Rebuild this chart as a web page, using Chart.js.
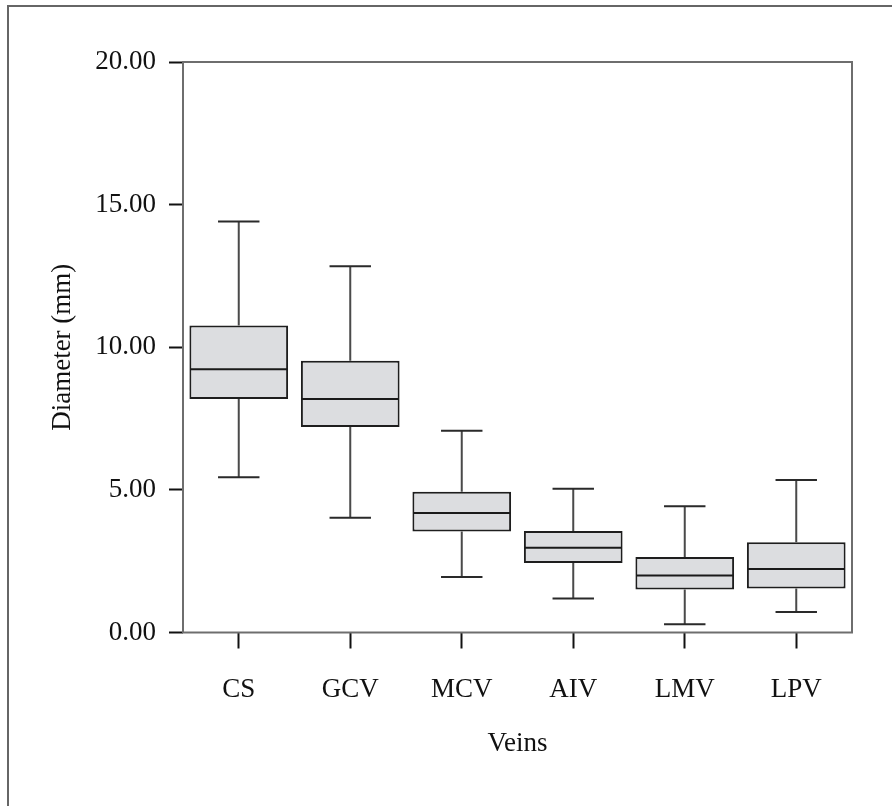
<!DOCTYPE html>
<html lang="en">
<head>
    <meta charset="UTF-8">
    <title>Vein Diameter Box Plot</title>
    <script src="https://cdn.jsdelivr.net/npm/chart.js"></script>
    <style>
        body {
            margin: 0;
            background: #fff;
        }
        #wrap {
            position: relative;
            width: 892px;
            height: 806px;
        }
        #frame {
            position: absolute;
            left: 7px;
            top: 5px;
            right: 0;
            bottom: 0;
            border-top: 2px solid #666;
            border-left: 2px solid #666;
            pointer-events: none;
        }
        canvas {
            position: absolute;
            left: 0;
            top: 0;
        }
    </style>
</head>
<body>
    <div id="wrap">
        <canvas id="veins-chart" width="892" height="806"></canvas>
        <div id="frame"></div>
    </div>

    <script>
        // values
        const veins = ['CS', 'GCV', 'MCV', 'AIV', 'LMV', 'LPV'];
        const whiskerLow = [5.44, 4.02, 1.95, 1.19, 0.29, 0.72];
        const quartile1 = [8.19, 7.20, 3.54, 2.44, 1.51, 1.54];
        const medians = [9.23, 8.19, 4.19, 2.97, 2.00, 2.23];
        const quartile3 = [10.76, 9.53, 4.93, 3.56, 2.65, 3.16];
        const whiskerHigh = [14.41, 12.84, 7.07, 5.04, 4.43, 5.35];
        const yTicks = [0, 5, 10, 15, 20];

        const serif = "'Liberation Serif', 'Times New Roman', serif";

        // whiskers, caps and median lines, placed with the chart's own scales
        const boxParts = {
            id: 'boxParts',
            afterDatasetsDraw(chart) {
                const ctx = chart.ctx;
                const y = chart.scales.y;
                const meta = chart.getDatasetMeta(0);
                ctx.save();
                meta.data.forEach((bar, i) => {
                    const half = bar.width / 2;
                    const cap = bar.width * 0.21;
                    const yLow = y.getPixelForValue(whiskerLow[i]);
                    const yQ1 = y.getPixelForValue(quartile1[i]);
                    const yQ3 = y.getPixelForValue(quartile3[i]);
                    const yHigh = y.getPixelForValue(whiskerHigh[i]);
                    const yMed = y.getPixelForValue(medians[i]);

                    ctx.strokeStyle = '#4a4a4a';
                    ctx.lineWidth = 2;
                    ctx.beginPath();
                    ctx.moveTo(bar.x, yQ3);
                    ctx.lineTo(bar.x, yHigh);
                    ctx.moveTo(bar.x, yQ1);
                    ctx.lineTo(bar.x, yLow);
                    ctx.stroke();

                    ctx.strokeStyle = '#2a2a2a';
                    ctx.beginPath();
                    ctx.moveTo(bar.x - cap, yHigh);
                    ctx.lineTo(bar.x + cap, yHigh);
                    ctx.moveTo(bar.x - cap, yLow);
                    ctx.lineTo(bar.x + cap, yLow);
                    ctx.stroke();

                    ctx.strokeStyle = '#1a1a1a';
                    ctx.beginPath();
                    ctx.moveTo(bar.x - half + 1, yMed);
                    ctx.lineTo(bar.x + half - 1, yMed);
                    ctx.stroke();
                });
                ctx.restore();
            },
            afterDraw(chart) {
                const a = chart.chartArea;
                const ctx = chart.ctx;
                ctx.save();
                ctx.strokeStyle = '#6e6e6e';
                ctx.lineWidth = 2;
                ctx.strokeRect(a.left, a.top, a.right - a.left, a.bottom - a.top);
                ctx.restore();
            }
        };

        const ctx = document.getElementById('veins-chart').getContext('2d');
        new Chart(ctx, {
            type: 'bar',
            data: {
                labels: veins,
                datasets: [{
                    data: veins.map((v, i) => [quartile1[i], quartile3[i]]),
                    backgroundColor: '#dcdde0',
                    borderColor: '#1e1e1e',
                    borderWidth: 2,
                    borderSkipped: false,
                    barPercentage: 0.885,
                    categoryPercentage: 1.0
                }]
            },
            options: {
                responsive: false,
                animation: false,
                layout: {
                    padding: { top: 62, right: 40, bottom: 0, left: 0 }
                },
                plugins: {
                    legend: { display: false },
                    tooltip: { enabled: false }
                },
                scales: {
                    x: {
                        afterFit: scale => { scale.height = 173.5; },
                        grid: {
                            offset: false,
                            drawOnChartArea: false,
                            tickLength: 16,
                            tickColor: '#111',
                            tickWidth: 2
                        },
                        border: { display: false },
                        ticks: {
                            color: '#111',
                            padding: 25,
                            font: { family: serif, size: 27 }
                        },
                        title: {
                            display: true,
                            text: 'Veins',
                            color: '#111',
                            padding: { top: 0, bottom: 46 },
                            font: { family: serif, size: 27 }
                        }
                    },
                    y: {
                        min: 0,
                        max: 20,
                        afterFit: scale => { scale.width = 183; },
                        afterBuildTicks: scale => {
                            scale.ticks = yTicks.map(v => ({ value: v }));
                        },
                        grid: {
                            drawOnChartArea: false,
                            tickLength: 14,
                            tickColor: '#111',
                            tickWidth: 2
                        },
                        border: { display: false },
                        ticks: {
                            color: '#111',
                            padding: 13,
                            font: { family: serif, size: 27 },
                            callback: v => Number(v).toFixed(2)
                        },
                        title: {
                            display: true,
                            text: 'Diameter (mm)',
                            color: '#111',
                            padding: { top: 47, bottom: 0 },
                            font: { family: serif, size: 27 }
                        }
                    }
                }
            },
            plugins: [boxParts]
        });
    </script>
</body>
</html>
